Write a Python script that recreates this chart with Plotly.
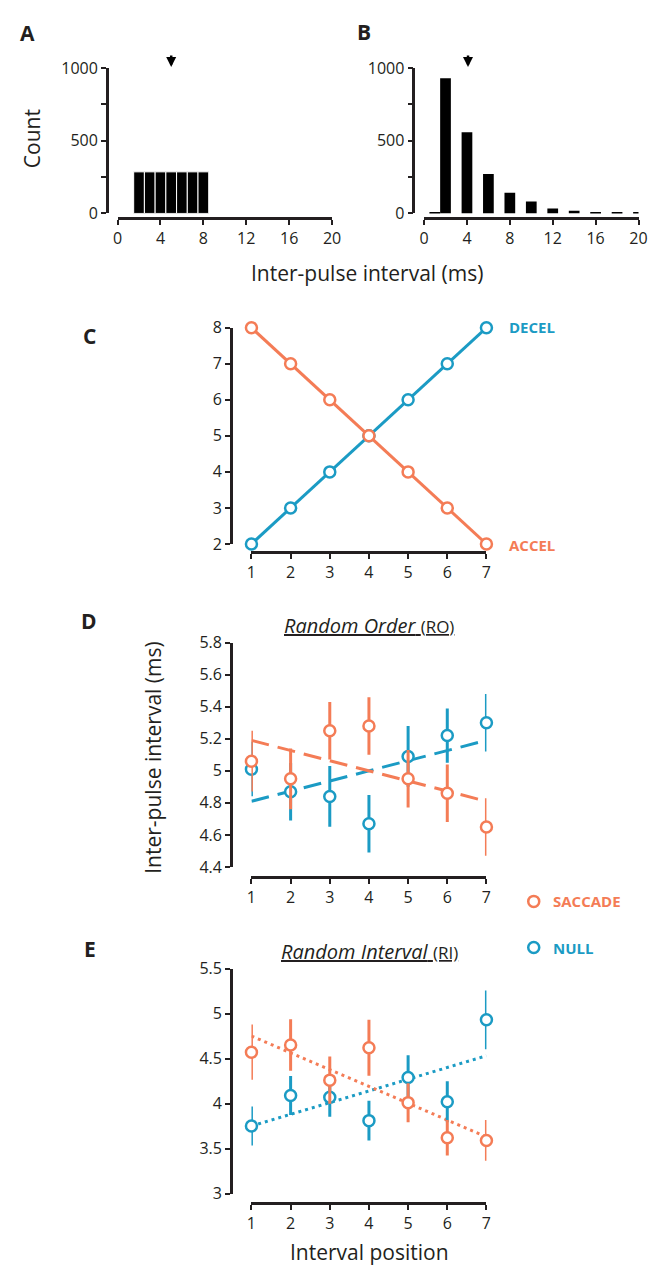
import plotly.graph_objects as go

W, H = 671, 1276
FONT = "Open Sans"
INK = "#231f20"
ORANGE = "#f47c56"
BLUE = "#1b9bc4"

# ---------------- data ----------------
# Panel A: uniform distribution of inter-pulse intervals
a_bins = [2, 3, 4, 5, 6, 7, 8]
a_counts = [286, 286, 286, 286, 286, 286, 286]
a_mean = 5
# Panel B: skewed distribution
b_bins = [1, 2, 4, 6, 8, 10, 12, 14, 16, 18, 20]
b_counts = [6, 930, 559, 272, 142, 83, 34, 18, 6, 6, 6]
b_mean = 4.1
hist_ticks = [0, 4, 8, 12, 16, 20]
count_ticks = [0, 250, 500, 750, 1000]
count_ticktext = ["0", "", "500", "", "1000"]

# Panel C: designed sequences
positions = [1, 2, 3, 4, 5, 6, 7]
decel = [2, 3, 4, 5, 6, 7, 8]
accel = [8, 7, 6, 5, 4, 3, 2]

# Panel D: Random Order
ro_saccade = [5.06, 4.95, 5.25, 5.28, 4.95, 4.86, 4.65]
ro_saccade_err = [0.18, 0.18, 0.17, 0.17, 0.17, 0.17, 0.17]
ro_null = [5.01, 4.87, 4.84, 4.67, 5.09, 5.22, 5.30]
ro_null_err = [0.16, 0.17, 0.18, 0.17, 0.18, 0.16, 0.17]
ro_fit_x = [1, 7]
ro_saccade_fit = [5.19, 4.81]
ro_null_fit = [4.81, 5.19]
ro_ticks = [4.4, 4.6, 4.8, 5.0, 5.2, 5.4, 5.6, 5.8]
ro_ticktext = ["4.4", "4.6", "4.8", "5", "5.2", "5.4", "5.6", "5.8"]

# Panel E: Random Interval
ri_saccade = [4.57, 4.65, 4.26, 4.62, 4.01, 3.62, 3.59]
ri_saccade_err = [0.29, 0.27, 0.245, 0.295, 0.2, 0.18, 0.21]
ri_null = [3.75, 4.09, 4.07, 3.81, 4.29, 4.02, 4.93]
ri_null_err = [0.2, 0.2, 0.2, 0.205, 0.23, 0.21, 0.31]
ri_fit_x = [1, 7]
ri_saccade_fit = [4.75, 3.63]
ri_null_fit = [3.75, 4.53]
ri_ticks = [3, 3.5, 4, 4.5, 5, 5.5]
ri_ticktext = ["3", "3.5", "4", "4.5", "5", "5.5"]


def px(x):
    return x / W


def py(y):
    return 1 - y / H


fig = go.Figure()

# ---------------- Panel A / B bars ----------------
fig.add_trace(go.Bar(x=a_bins, y=a_counts, width=1, marker=dict(color="black", line=dict(color="white", width=1)),
                     xaxis="x", yaxis="y", showlegend=False))
fig.add_trace(go.Bar(x=b_bins, y=b_counts, width=1, marker=dict(color="black", line=dict(width=0)),
                     xaxis="x2", yaxis="y2", showlegend=False))

# ---------------- Panel C ----------------
fig.add_trace(go.Scatter(x=positions, y=decel, mode="lines+markers", xaxis="x3", yaxis="y3",
                         line=dict(color=BLUE, width=3),
                         marker=dict(symbol="circle", size=11, color="white", line=dict(color=BLUE, width=2.5)),
                         cliponaxis=False, showlegend=False))
fig.add_trace(go.Scatter(x=positions, y=accel, mode="lines+markers", xaxis="x3", yaxis="y3",
                         line=dict(color=ORANGE, width=3),
                         marker=dict(symbol="circle", size=11, color="white", line=dict(color=ORANGE, width=2.5)),
                         cliponaxis=False, showlegend=False))


def add_points(xa, ya, ys, errs, color):
    fig.add_trace(go.Scatter(x=positions, y=ys, mode="markers", xaxis=xa, yaxis=ya,
                             error_y=dict(type="data", array=errs, color=color, thickness=3, width=1.5),
                             marker=dict(symbol="circle", size=11, color="white", line=dict(color=color, width=2.5)),
                             cliponaxis=False, showlegend=False))


def add_fit(xa, ya, xs, ys, color, dash):
    fig.add_trace(go.Scatter(x=xs, y=ys, mode="lines", xaxis=xa, yaxis=ya,
                             line=dict(color=color, width=3, dash=dash),
                             cliponaxis=False, showlegend=False))


# ---------------- Panel D ----------------
add_fit("x4", "y4", ro_fit_x, ro_null_fit, BLUE, "18px,9px")
add_fit("x4", "y4", ro_fit_x, ro_saccade_fit, ORANGE, "18px,9px")
add_points("x4", "y4", ro_null, ro_null_err, BLUE)
add_points("x4", "y4", ro_saccade, ro_saccade_err, ORANGE)

# ---------------- Panel E ----------------
add_fit("x5", "y5", ri_fit_x, ri_null_fit, BLUE, "3px,4px")
add_fit("x5", "y5", ri_fit_x, ri_saccade_fit, ORANGE, "3px,4px")
add_points("x5", "y5", ri_null, ri_null_err, BLUE)
add_points("x5", "y5", ri_saccade, ri_saccade_err, ORANGE)

# ---------------- axes ----------------
tickfont = dict(family=FONT, size=16, color=INK)
common = dict(showgrid=False, zeroline=False, showline=True, linecolor=INK, linewidth=2.5,
              ticks="outside", ticklen=5, tickwidth=2, tickcolor=INK, tickfont=tickfont,
              fixedrange=True, anchor="free")

layout_axes = {}
# A
layout_axes["xaxis"] = dict(common, domain=[px(115), px(334)], range=[0, 20], tickvals=hist_ticks,
                            position=py(211))
layout_axes["yaxis"] = dict(common, domain=[py(206), py(58)], range=[0, 1000], tickvals=count_ticks,
                            ticktext=count_ticktext, position=px(104))
# B
layout_axes["xaxis2"] = dict(common, domain=[px(428), px(647)], range=[0, 20], tickvals=hist_ticks,
                             position=py(211))
layout_axes["yaxis2"] = dict(common, domain=[py(206), py(58)], range=[0, 1000], tickvals=count_ticks,
                             ticktext=count_ticktext, position=px(417))
# C
layout_axes["xaxis3"] = dict(common, domain=[px(251.7), px(491.7)], range=[1, 7], tickvals=positions,
                             position=py(550.7))
layout_axes["yaxis3"] = dict(common, domain=[py(542.3), py(322.3)], range=[2, 8],
                             tickvals=[2, 3, 4, 5, 6, 7, 8], position=px(230.7))
# D
layout_axes["xaxis4"] = dict(common, domain=[px(251.7), px(491.7)], range=[1, 7], tickvals=positions,
                             position=py(881))
layout_axes["yaxis4"] = dict(common, domain=[py(871), py(642.7)], range=[4.4, 5.8],
                             tickvals=ro_ticks, ticktext=ro_ticktext, position=px(230.7))
# E
layout_axes["xaxis5"] = dict(common, domain=[px(251.7), px(491.7)], range=[1, 7], tickvals=positions,
                             position=py(1213.3))
layout_axes["yaxis5"] = dict(common, domain=[py(1203.3), py(974.3)], range=[3, 5.5],
                             tickvals=ri_ticks, ticktext=ri_ticktext, position=px(230.7))

# ---------------- annotations ----------------
ann = []


def text(x, y, s, size=16, color=INK, angle=0, xanchor="center"):
    ann.append(dict(x=px(x), y=py(y), xref="paper", yref="paper", text=s, showarrow=False,
                    font=dict(family=FONT, size=size, color=color), textangle=angle,
                    xanchor=xanchor, yanchor="middle"))


for letter, (lx, ly) in {"A": (23, 22), "B": (367, 21), "C": (86, 331), "D": (86, 621), "E": (87, 954)}.items():
    text(lx, ly, "<b>%s</b>" % letter, size=21)

text(27, 130, "Count", size=21, angle=-90)
text(370, 267, "Inter-pulse interval (ms)", size=21)
text(151, 760, "Inter-pulse interval (ms)", size=21, angle=-90)
text(372, 1263, "Interval position", size=21)
text(372, 625, "<u><i>Random Order</i> <span style='font-size:17px'>(RO)</span></u>", size=20)
text(372, 957, "<u><i>Random Interval</i> <span style='font-size:17px'>(RI)</span></u>", size=20)

text(513, 322, "<b>DECEL</b>", size=15, color=BLUE, xanchor="left")
text(513, 543, "<b>ACCEL</b>", size=15, color=ORANGE, xanchor="left")
text(558, 906, "<b>SACCADE</b>", size=15, color=ORANGE, xanchor="left")
text(558, 953, "<b>NULL</b>", size=15, color=BLUE, xanchor="left")

# mean arrows
for xa, mval in (("x", a_mean), ("x2", b_mean)):
    ann.append(dict(x=mval, y=py(57), xref=xa, yref="paper", text="", showarrow=True,
                    ax=0, ay=-13, arrowhead=2, arrowsize=0.8, arrowwidth=2.5, arrowcolor="black"))

shapes = []
for cy, col in ((906, ORANGE), (953, BLUE)):
    shapes.append(dict(type="circle", xref="paper", yref="paper", xsizemode="pixel", ysizemode="pixel",
                       xanchor=px(540), yanchor=py(cy), x0=-5.5, x1=5.5, y0=-5.5, y1=5.5,
                       line=dict(color=col, width=2.5), fillcolor="white"))

fig.update_layout(width=W, height=H, margin=dict(l=0, r=0, t=0, b=0),
                  paper_bgcolor="white", plot_bgcolor="white", barmode="overlay",
                  annotations=ann, shapes=shapes, font=dict(family=FONT, color=INK),
                  **layout_axes)

fig.write_html("out.html",
               post_script="document.body.style.margin='0';document.body.style.padding='0';")
